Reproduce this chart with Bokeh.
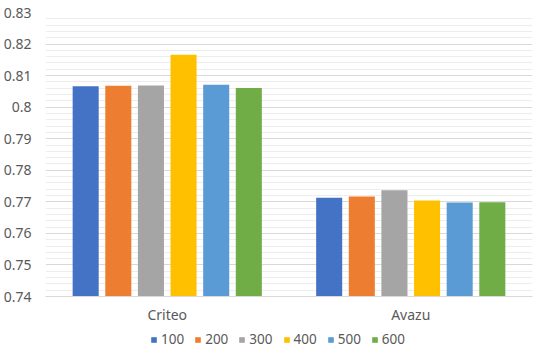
from bokeh.plotting import figure
from bokeh.models import (ColumnDataSource, FactorRange, FixedTicker, CustomJSTickFormatter,
                          Legend, LegendItem, Range1d)
from bokeh.transform import dodge
from bokeh.embed import file_html
from bokeh.resources import INLINE

# ---- data ----
datasets = ["Criteo", "Avazu"]
series_names = ["100", "200", "300", "400", "500", "600"]
v100 = [0.8066, 0.7713]
v200 = [0.8068, 0.7717]
v300 = [0.8069, 0.7737]
v400 = [0.8166, 0.7704]
v500 = [0.8071, 0.7698]
v600 = [0.8061, 0.7699]
y_ticks = [0.74, 0.75, 0.76, 0.77, 0.78, 0.79, 0.80, 0.81, 0.82, 0.83]
y_minor = [0.74 + 0.002 * i for i in range(46)]
y_start, y_end = 0.74, 0.83

colors = ["#4472C4", "#ED7D31", "#A5A5A5", "#FFC000", "#5B9BD5", "#70AD47"]
values = [v100, v200, v300, v400, v500, v600]

src = ColumnDataSource(data={"cat": datasets, **{"s" + n: v for n, v in zip(series_names, values)}})

FONT = "Noto Sans"
TXT = "#595959"

# layout geometry (pixels): plot area from top margin down to the value axis, and space below
H = 348
TOP = 12
AXIS_PX = 284          # pixel height of the y_start..y_end span
BELOW_PX = H - TOP - AXIS_PX
y_low = y_start - BELOW_PX * (y_end - y_start) / AXIS_PX

p = figure(width=534, height=H, x_range=FactorRange(*datasets, range_padding=0),
           y_range=Range1d(y_low, y_end), output_backend="svg", toolbar_location=None,
           min_border_left=36, min_border_right=2, min_border_top=TOP, min_border_bottom=0)
p.outline_line_color = None
p.background_fill_color = "white"
p.border_fill_color = "white"

pitch = 0.134
bw = 0.107
renderers = []
for i, (n, c) in enumerate(zip(series_names, colors)):
    r = p.vbar(x=dodge("cat", (i - 2.5) * pitch, range=p.x_range), top="s" + n,
               bottom=y_start, width=bw, source=src, fill_color=c, line_color=None)
    renderers.append((n, r))

# y axis
p.yaxis.ticker = FixedTicker(ticks=y_ticks, minor_ticks=y_minor)
p.yaxis.formatter = CustomJSTickFormatter(code="return String(Math.round(tick*100)/100);")
p.yaxis.bounds = (y_start, y_end)
p.yaxis.axis_line_color = None
p.yaxis.major_tick_line_color = None
p.yaxis.minor_tick_line_color = None
p.yaxis.major_label_standoff = 8
p.yaxis.major_label_text_font = FONT
p.yaxis.major_label_text_font_size = "14px"
p.yaxis.major_label_text_color = TXT

# x axis (sits on the 0.74 baseline)
p.xaxis.fixed_location = y_start
p.xaxis.axis_line_color = "#d9d9d9"
p.xaxis.major_tick_line_color = None
p.xaxis.minor_tick_line_color = None
p.xaxis.major_tick_out = 0
p.xaxis.major_tick_in = 0
p.xaxis.major_label_standoff = 8
p.xaxis.major_label_text_font = FONT
p.xaxis.major_label_text_font_size = "14px"
p.xaxis.major_label_text_color = TXT

# grids
p.xgrid.grid_line_color = None
p.ygrid.bounds = (y_start, y_end)
p.ygrid.grid_line_color = "#d9d9d9"
p.ygrid.minor_grid_line_color = "#ededed"

legend = Legend(items=[LegendItem(label=n, renderers=[r]) for n, r in renderers],
                orientation="horizontal", location=(105, 0),
                glyph_width=7, glyph_height=7, label_standoff=4, spacing=10,
                padding=0, margin=0, border_line_color=None, background_fill_alpha=0,
                label_text_font=FONT, label_text_font_size="13.5px", label_text_color=TXT,
                label_height=14)
p.add_layout(legend, "center")

open("out.html", "w").write(file_html(p, INLINE))
